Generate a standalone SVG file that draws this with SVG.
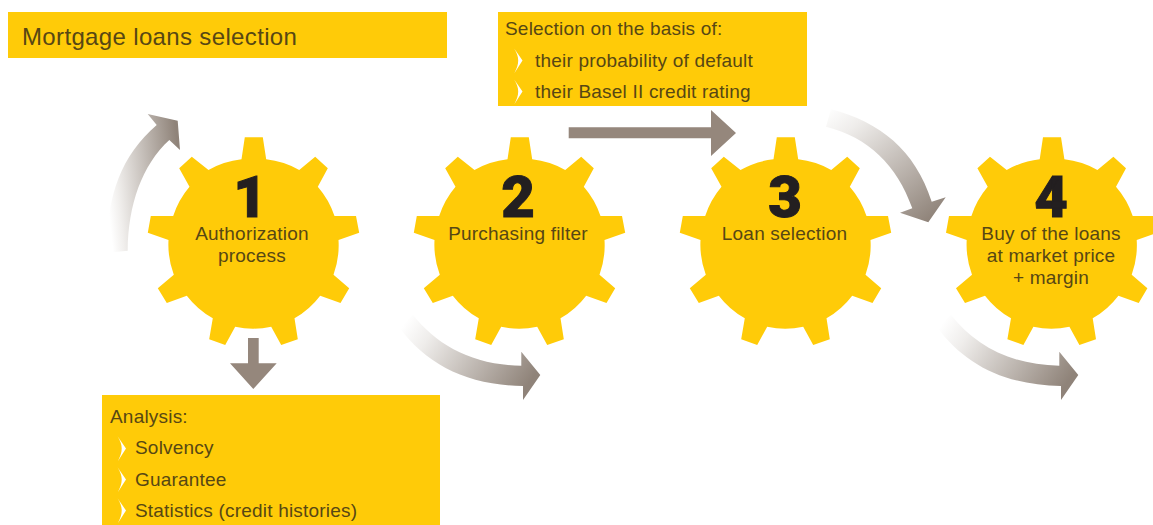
<svg xmlns="http://www.w3.org/2000/svg" xmlns:xlink="http://www.w3.org/1999/xlink" width="1153" height="525" viewBox="0 0 1153 525">
<style>
text{font-family:"Liberation Sans",Arial,sans-serif;font-size:19px;letter-spacing:.2px;fill:#574714}
.c{text-anchor:middle}
.title{font-size:24px;letter-spacing:.35px}
.num{font-family:Roboto,"Liberation Sans",sans-serif;font-size:58px;font-weight:900;letter-spacing:0;fill:#231f20;stroke:#231f20;stroke-width:1;text-anchor:middle}
.y{fill:#ffcb08}
.solid{fill:#95877c}
</style>
<defs>
<linearGradient id="gUp" x1="0" y1="0.6" x2="1" y2="0.4"><stop offset="0" stop-color="#fff"/><stop offset="0.15" stop-color="#f1efed"/><stop offset="1" stop-color="#8f8379"/></linearGradient>
<linearGradient id="gDown" x1="0" y1="0" x2="0.85" y2="1"><stop offset="0" stop-color="#fff"/><stop offset="0.2" stop-color="#efedeb"/><stop offset="1" stop-color="#8f8379"/></linearGradient>
<linearGradient id="gRight" x1="0" y1="0.2" x2="1" y2="0.6"><stop offset="0" stop-color="#fff"/><stop offset="0.2" stop-color="#efedeb"/><stop offset="1" stop-color="#8f8379"/></linearGradient>
<path id="gear" d="M-12,-83.7L-8.7,-105.7L9.3,-105.7L12.7,-83.7A85.5,85.5 0 0 1 45.7,-73L61.7,-86.3L74.3,-74.7L64.3,-56.3A85.5,85.5 0 0 1 81,-27L102.5,-27L105.7,-10.3L85,-3A85.5,85.5 0 0 1 80,31.7L95.7,45.3L87,60L66.7,52.7A85.5,85.5 0 0 1 41,75.3L44.3,96.3L27.7,102L17.7,83.7A85.5,85.5 0 0 1 -18.3,83.7L-28.3,102L-44.3,96.3L-40.7,75.3A85.5,85.5 0 0 1 -66.7,52.7L-86.7,60L-95.7,45.3L-79.7,31.7A85.5,85.5 0 0 1 -85,-3L-105.7,-10.3L-102.7,-27L-80.3,-27A85.5,85.5 0 0 1 -64,-56.3L-74.3,-74.7L-61.7,-86.3L-45,-73A85.5,85.5 0 0 1 -12,-83.7Z"/>
<path id="chev" fill="#fff" d="M-4.3,-12.5L4,-0.5L-4,12C-1.6,7 -0.3,3.5 -0.3,-0.5C-0.3,-4.5 -1.6,-8 -4.3,-12.5Z"/>
<path id="swoop" fill="url(#gRight)" d="M951,315C975,345 1010,365 1059.3,365.7L1059.3,351.7L1078.3,375L1061,400L1061,386C1005,385 965,365 936.7,326.7Z"/>
</defs>
<g id="title"><rect class="y" x="8" y="12" width="439" height="46"/><text class="title" x="22" y="45">Mortgage loans selection</text></g>
<g id="selection-box"><rect class="y" x="498" y="12" width="309" height="94"/>
<text x="505" y="35">Selection on the basis of:</text>
<use href="#chev" x="518.5" y="61"/><text x="535" y="67">their probability of default</text>
<use href="#chev" x="518.5" y="92"/><text x="535" y="97.5">their Basel II credit rating</text></g>
<g id="analysis-box"><rect class="y" x="102" y="395" width="338" height="130"/>
<text x="110" y="423">Analysis:</text>
<use href="#chev" x="122" y="449"/><text x="135" y="454">Solvency</text>
<use href="#chev" x="122" y="480"/><text x="135" y="485.5">Guarantee</text>
<use href="#chev" x="122" y="511"/><text x="135" y="516.5">Statistics (credit histories)</text></g>
<g id="gear1"><use class="y" href="#gear" x="253.5" y="243"/><text class="num" x="250" y="217">1</text><text class="c" x="252" y="239.5">Authorization</text><text class="c" x="252" y="261.5">process</text></g>
<g id="gear2"><use class="y" href="#gear" x="519.5" y="243"/><text class="num" x="518" y="217">2</text><text class="c" x="518" y="239.5">Purchasing filter</text></g>
<g id="gear3"><use class="y" href="#gear" x="785.5" y="243"/><text class="num" x="785" y="217">3</text><text class="c" x="784.5" y="239.5">Loan selection</text></g>
<g id="gear4"><use class="y" href="#gear" x="1051.7" y="243"/><text class="num" x="1051" y="217">4</text><text class="c" x="1051" y="239.5">Buy of the loans</text><text class="c" x="1051" y="261.5">at market price</text><text class="c" x="1051" y="284">+ margin</text></g>
<g id="connectors">
<path fill="url(#gUp)" d="M107.3,252.7C106,195 122,155 156.7,125L147.7,114L177.7,120.7L180,150L169.3,140C142,165 128,205 127.7,250.7Z"/>
<path class="solid" d="M248,338H258.7V363.3H276.7L253.3,389L230,363.3H248Z"/>
<path class="solid" d="M568.7,127.3H711V110L736,133L711,156V138.3H568.7Z"/>
<path fill="url(#gDown)" d="M831,109.3C880,122 915,150 931.7,201.7L945.7,197.3L928.3,222.3L900,212.7L912.3,208.3C897,165 868,137 826,126.7Z"/>
<use href="#swoop" x="-538" y="0"/>
<use href="#swoop"/>
</g>
</svg>
